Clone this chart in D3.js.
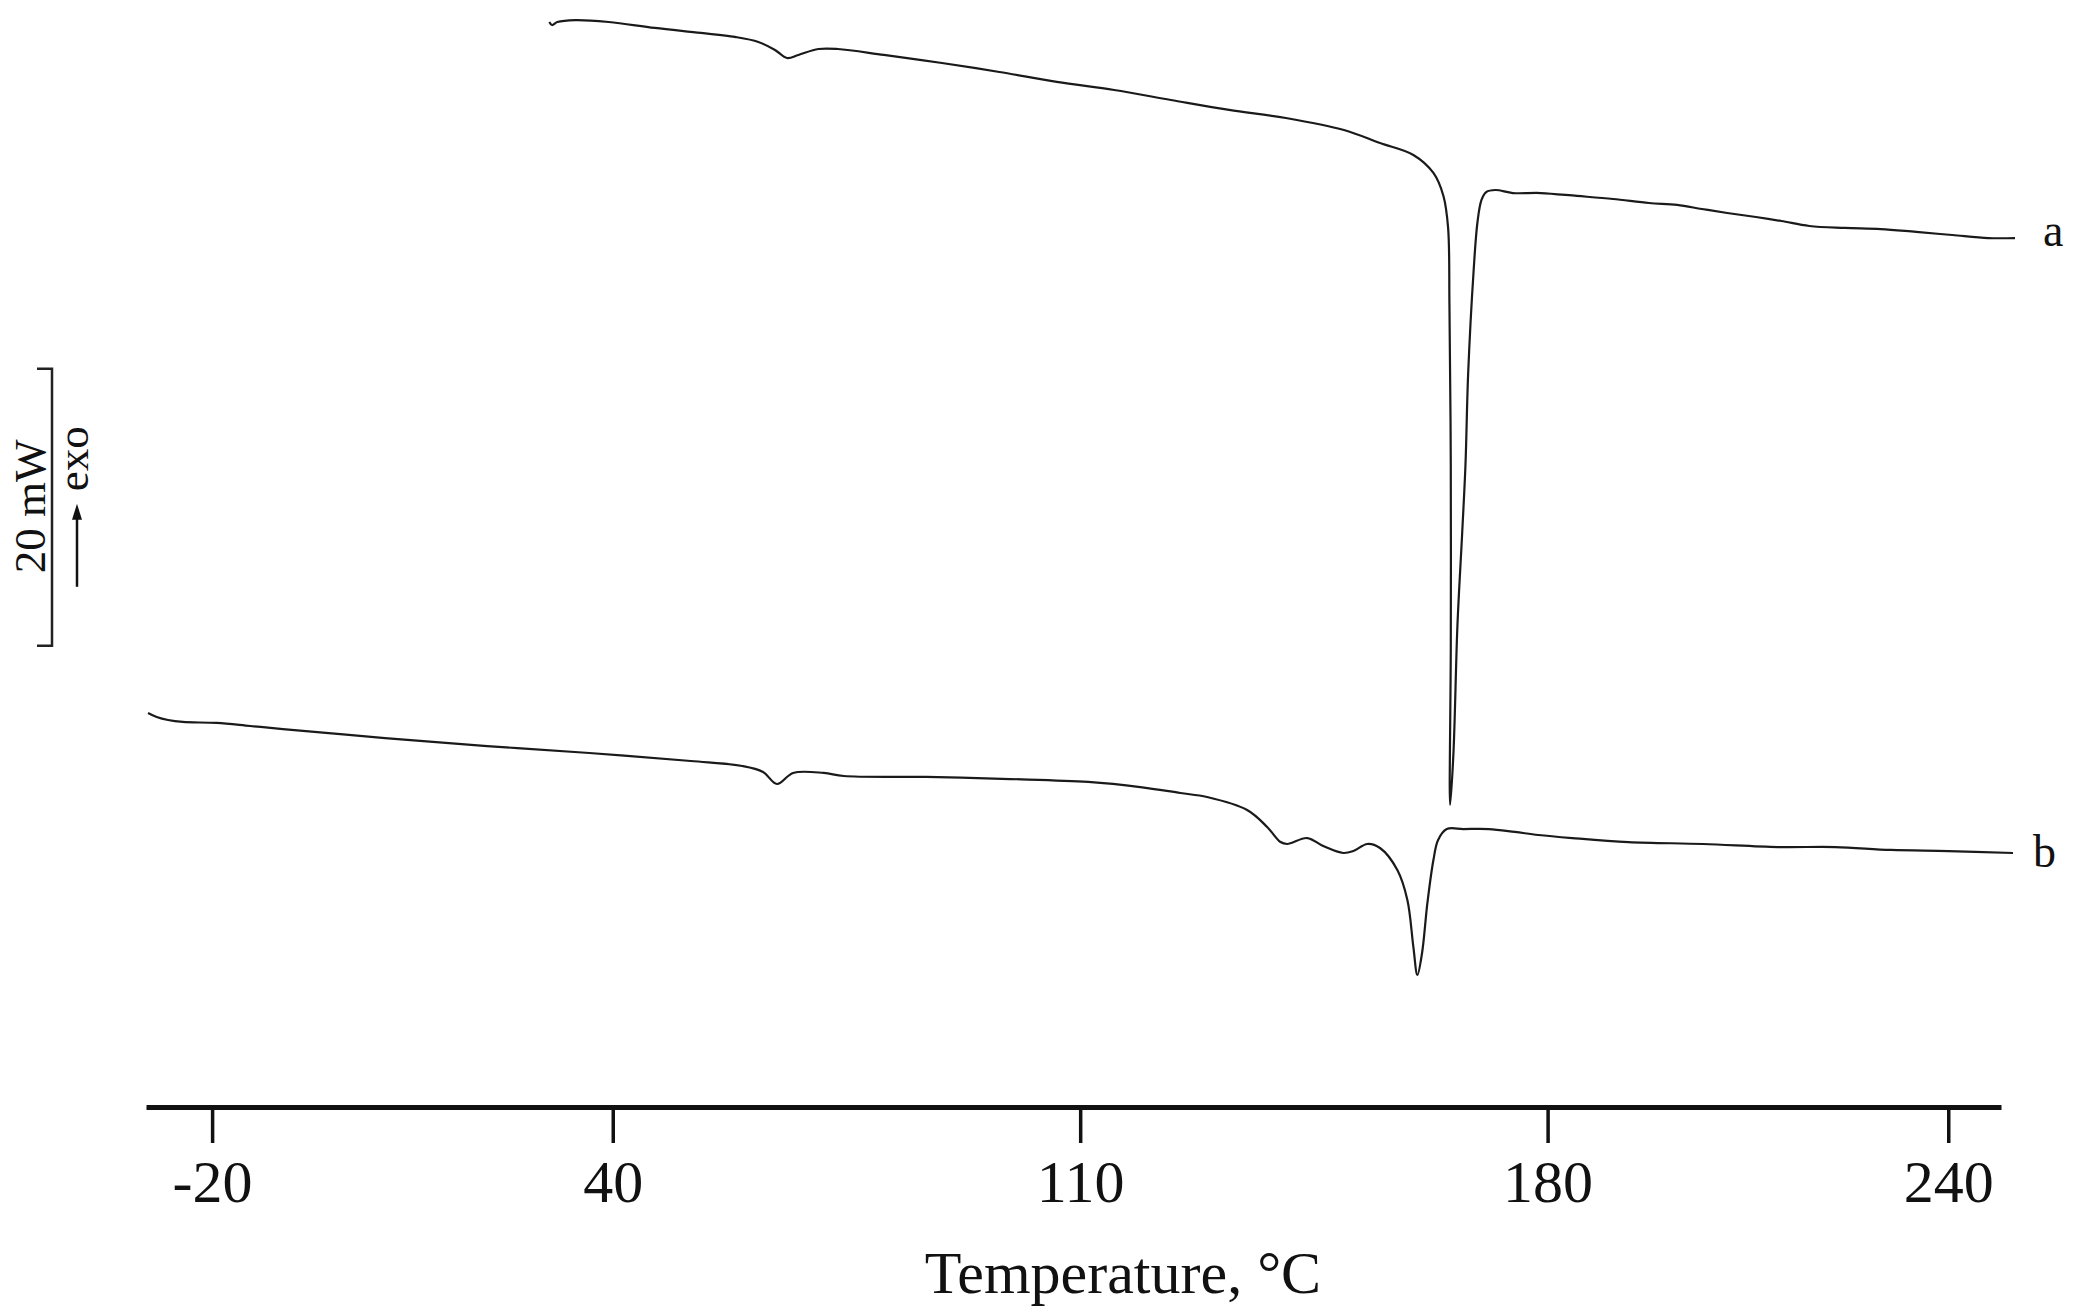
<!DOCTYPE html>
<html>
<head>
<meta charset="utf-8">
<script src="https://cdn.jsdelivr.net/npm/d3@7"></script>
<style>
  html, body { margin: 0; padding: 0; background: #fff; }
  svg { display: block; }
  text { font-family: "Liberation Serif", "Times New Roman", serif; fill: #111; }
</style>
</head>
<body>
<svg id="chart" width="2080" height="1316"></svg>
<script>
// ---- data (temperature °C, heat flow mW, relative offset) ----
const tempA = [30.5, 30.9, 31.7, 34.4, 39.4, 46.3, 53.2, 58.3, 61.8, 64.3, 66.1, 67.8, 70.8, 73.7, 80.6, 89.3, 97.9, 106.5, 115.1, 123.6, 132.3, 140.8, 149.5, 154.9, 159.9, 162.9, 164.4, 165.1, 165.3, 165.5, 165.5, 165.4, 165.9, 166.5, 167.2, 167.7, 168.1, 168.9, 169.5, 170.1, 170.8, 172.2, 174.8, 179.0, 184.4, 189.8, 195.2, 199.4, 203.1, 206.9, 211.2, 215.0, 219.2, 224.5, 229.9, 235.2, 240.6, 246.0, 250.0];
const heatA = [78.34, 78.12, 78.34, 78.48, 78.34, 77.91, 77.55, 77.26, 76.90, 76.32, 75.74, 75.96, 76.39, 76.39, 75.96, 75.38, 74.73, 74.01, 73.43, 72.71, 71.99, 71.41, 70.54, 69.60, 68.74, 67.44, 65.78, 63.47, 57.91, 46.35, 33.14, 21.81, 25.56, 34.80, 41.37, 46.35, 52.92, 60.22, 63.90, 65.49, 66.06, 66.21, 65.99, 65.99, 65.78, 65.56, 65.27, 65.13, 64.84, 64.55, 64.26, 63.97, 63.61, 63.47, 63.39, 63.18, 62.96, 62.74, 62.74];

const tempB = [-29.6, -28.3, -26.6, -24.4, -19.3, -14.3, -9.4, 5.9, 21.2, 36.5, 51.7, 59.4, 62.5, 64.6, 67.0, 71.6, 74.6, 86.9, 99.5, 111.2, 119.0, 125.0, 129.0, 135.0, 138.0, 140.0, 141.0, 144.0, 146.4, 149.4, 150.9, 153.0, 154.9, 157.5, 159.0, 159.9, 160.5, 161.2, 162.0, 162.9, 163.6, 164.9, 167.4, 171.2, 175.1, 178.6, 183.7, 192.1, 203.3, 214.5, 223.1, 231.4, 240.0, 249.7];
const heatB = [28.45, 28.16, 27.94, 27.80, 27.73, 27.51, 27.29, 26.64, 26.06, 25.56, 24.98, 24.62, 24.19, 23.32, 24.12, 24.12, 23.90, 23.83, 23.68, 23.47, 23.10, 22.67, 22.38, 21.44, 20.22, 19.13, 18.99, 19.42, 18.84, 18.34, 18.48, 18.99, 18.70, 17.11, 14.95, 11.55, 9.53, 11.12, 14.73, 17.83, 19.28, 20.07, 20.07, 20.07, 19.86, 19.64, 19.42, 19.13, 18.99, 18.77, 18.77, 18.56, 18.48, 18.34];

const seriesLabels = ["a", "b"];
const tickValues = [-20, 40, 110, 180, 240];
const tickLabels = ["-20", "40", "110", "180", "240"];
const xTitle = "Temperature, °C";
const scaleBarValue = 20;      // mW
const scaleBarBase = 33.3;     // mW (position of bar bottom)
const scaleBarText = "20 mW";
const exoText = "exo";

// ---- scales ----
const svg = d3.select("#chart");
const x = d3.scaleLinear().domain([-29.9, 247.9]).range([146, 2001]);
const y = d3.scaleLinear().domain([0, 80]).range([1107, 1107 - 80 * 13.85]);

const line = d3.line()
  .x(d => x(d[0]))
  .y(d => y(d[1]))
  .curve(d3.curveCatmullRom.alpha(0.5));

const dataA = tempA.map((t, i) => [t, heatA[i]]);
const dataB = tempB.map((t, i) => [t, heatB[i]]);

[dataA, dataB].forEach(d => {
  svg.append("path")
    .datum(d)
    .attr("d", line)
    .attr("fill", "none")
    .attr("stroke", "#1a1a1a")
    .attr("stroke-width", 2.2)
    .attr("stroke-linejoin", "round");
});

// series labels
const lastA = dataA[dataA.length - 1], lastB = dataB[dataB.length - 1];
svg.append("text").attr("x", x(lastA[0]) + 28).attr("y", y(lastA[1]) + 8)
  .attr("font-size", 46).text(seriesLabels[0]);
svg.append("text").attr("x", x(lastB[0]) + 20).attr("y", y(lastB[1]) + 14)
  .attr("font-size", 46).text(seriesLabels[1]);

// ---- x axis ----
const axis = d3.axisBottom(x)
  .tickValues(tickValues)
  .tickFormat((d, i) => tickLabels[i])
  .tickSize(36)
  .tickSizeOuter(0)
  .tickPadding(16);

const gx = svg.append("g").attr("transform", `translate(0,${y(0)})`).call(axis);
gx.select(".domain").attr("stroke", "#111").attr("stroke-width", 5);
gx.selectAll(".tick line").attr("stroke", "#111").attr("stroke-width", 3.5);
gx.selectAll(".tick text")
  .attr("font-family", '"Liberation Serif", "Times New Roman", serif')
  .attr("font-size", 60)
  .attr("fill", "#111");

svg.append("text")
  .attr("x", 1123).attr("y", 1293)
  .attr("text-anchor", "middle")
  .attr("font-size", 60)
  .text(xTitle);

// ---- scale bar ----
const barX = 52;
const yTop = y(scaleBarBase + scaleBarValue), yBot = y(scaleBarBase);
svg.append("path")
  .attr("d", `M${barX - 15},${yTop} H${barX} V${yBot} H${barX - 15}`)
  .attr("fill", "none").attr("stroke", "#222").attr("stroke-width", 2.5);

svg.append("text")
  .attr("transform", `translate(45,${(yTop + yBot) / 2 - 1}) rotate(-90)`)
  .attr("text-anchor", "middle")
  .attr("font-size", 45)
  .text(scaleBarText);

svg.append("text")
  .attr("transform", `translate(88,${yTop + 90}) rotate(-90)`)
  .attr("text-anchor", "middle")
  .attr("font-size", 45)
  .text(exoText);

// arrow
const arrX = 77, arrTop = yTop + 135, arrBot = yTop + 218;
svg.append("line").attr("x1", arrX).attr("x2", arrX).attr("y1", arrBot).attr("y2", arrTop + 8)
  .attr("stroke", "#111").attr("stroke-width", 2.5);
svg.append("path")
  .attr("d", `M${arrX},${arrTop} L${arrX - 5},${arrTop + 16} L${arrX + 5},${arrTop + 16} Z`)
  .attr("fill", "#111");
</script>
</body>
</html>
